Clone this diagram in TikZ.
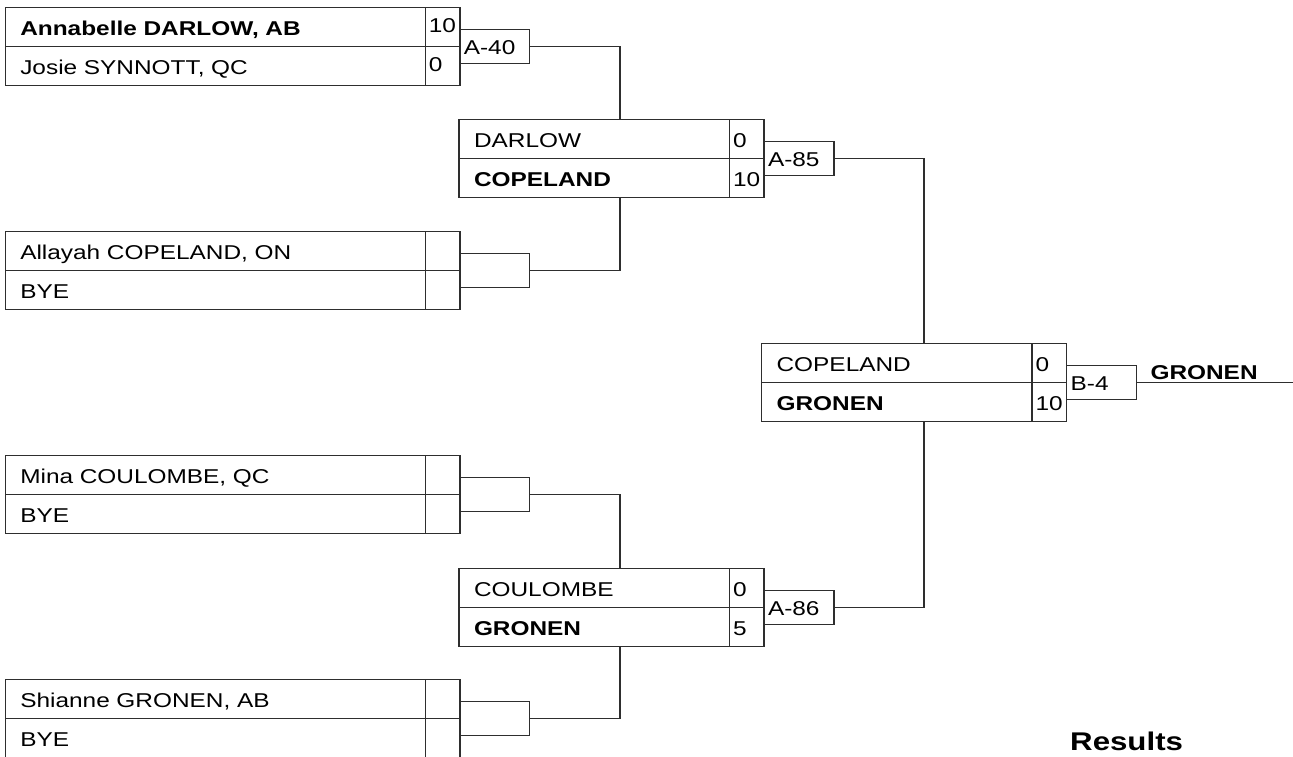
\documentclass[tikz,border=0pt]{standalone}
\usepackage{fontspec}
\setmainfont[FakeStretch=1.22]{Liberation Sans}
\usepackage{tikz}
\usetikzlibrary{positioning}

\definecolor{linegray}{gray}{0.18}

\tikzset{
  cell/.style={draw=linegray, line width=1.4pt, outer sep=0pt, inner ysep=0pt, minimum height=39pt, align=left, text depth=0pt, font=\fontsize{20}{24}\selectfont},
  entry/.style={cell, text width=390pt, inner xsep=15pt, text height=16pt},
  entrytwo/.style={cell, text width=240.5pt, inner xsep=15pt, text height=16pt},
  score/.style={cell, text width=27.5pt, inner xsep=3.5pt, text height=16pt},
  scoreone/.style={score, text height=10pt},
  win/.style={font=\fontsize{20}{24}\selectfont\bfseries},
  match/.style={draw=linegray, line width=1.1pt, outer sep=0pt, inner ysep=0pt, minimum height=33.5pt, text width=62pt, inner xsep=4pt, align=left, text height=15.5pt, text depth=0pt, anchor=west, font=\fontsize{20}{24}\selectfont},
  link/.style={draw=linegray, line width=1.1pt}
}

\begin{document}
\begin{tikzpicture}[x=1pt, y=-1pt]
\useasboundingbox (0,0) rectangle (1293,756);
\clip (0,0) rectangle (1293,756);
\node[entry, win, anchor=north west] (Darlow) at (5.3,7.5) {Annabelle DARLOW, AB};
\node[entry, below=0pt of Darlow] (Synnott) {Josie SYNNOTT, QC};
\node[scoreone, right=0pt of Darlow] (DarlowS) {10};
\node[scoreone, right=0pt of Synnott] (SynnottS) {0};
\node[match] (A40) at (DarlowS.south east) {A-40};
\node[entry, anchor=north west] (Copeland) at (5.3,231.5) {Allayah COPELAND, ON};
\node[entry, below=0pt of Copeland] (ByeB) {BYE};
\node[score, right=0pt of Copeland] (CopelandS) {};
\node[score, right=0pt of ByeB] (ByeBS) {};
\node[match] (MB) at (CopelandS.south east) {};
\node[entry, anchor=north west] (Coulombe) at (5.3,455.5) {Mina COULOMBE, QC};
\node[entry, below=0pt of Coulombe] (ByeC) {BYE};
\node[score, right=0pt of Coulombe] (CoulombeS) {};
\node[score, right=0pt of ByeC] (ByeCS) {};
\node[match] (MC) at (CoulombeS.south east) {};
\node[entry, anchor=north west] (Gronen) at (5.3,679.5) {Shianne GRONEN, AB};
\node[entry, below=0pt of Gronen] (ByeD) {BYE};
\node[score, right=0pt of Gronen] (GronenS) {};
\node[score, right=0pt of ByeD] (ByeDS) {};
\node[match] (MD) at (GronenS.south east) {};
\node[entrytwo, anchor=north west] (DarlowT) at (459,119.5) {DARLOW};
\node[entrytwo, win, below=0pt of DarlowT] (CopelandT) {COPELAND};
\node[score, right=0pt of DarlowT] (DarlowTS) {0};
\node[score, right=0pt of CopelandT] (CopelandTS) {10};
\node[match] (A85) at (DarlowTS.south east) {A-85};
\node[entrytwo, anchor=north west] (CoulombeT) at (459,568.5) {COULOMBE};
\node[entrytwo, win, below=0pt of CoulombeT] (GronenT) {GRONEN};
\node[score, right=0pt of CoulombeT] (CoulombeTS) {0};
\node[score, right=0pt of GronenT] (GronenTS) {5};
\node[match] (A86) at (CoulombeTS.south east) {A-86};
\node[entrytwo, anchor=north west] (CopelandF) at (761.6,343.5) {COPELAND};
\node[entrytwo, win, below=0pt of CopelandF] (GronenF) {GRONEN};
\node[score, right=0pt of CopelandF] (CopelandFS) {0};
\node[score, right=0pt of GronenF] (GronenFS) {10};
\node[match] (B4) at (CopelandFS.south east) {B-4};
\draw[link] (A40.east) -| ([xshift=25.75pt]DarlowT.north);
\draw[link] ([xshift=25.75pt]CopelandT.south) |- (MB.east);
\draw[link] (MC.east) -| ([xshift=25.75pt]CoulombeT.north);
\draw[link] ([xshift=25.75pt]GronenT.south) |- (MD.east);
\draw[link] (A85.east) -| ([xshift=27.15pt]CopelandF.north);
\draw[link] ([xshift=27.15pt]GronenF.south) |- (A86.east);
\coordinate (WinEnd) at (1300,383);
\draw[link] (B4.east) -- (B4.east -| WinEnd);
\node[win, anchor=base west] (Champ) at (1147,379.5) {GRONEN};
\node[anchor=base west, inner sep=0pt, font=\fontsize{25.6}{30}\selectfont\bfseries] (Results) at (1070,750) {Results};
\end{tikzpicture}
\end{document}
